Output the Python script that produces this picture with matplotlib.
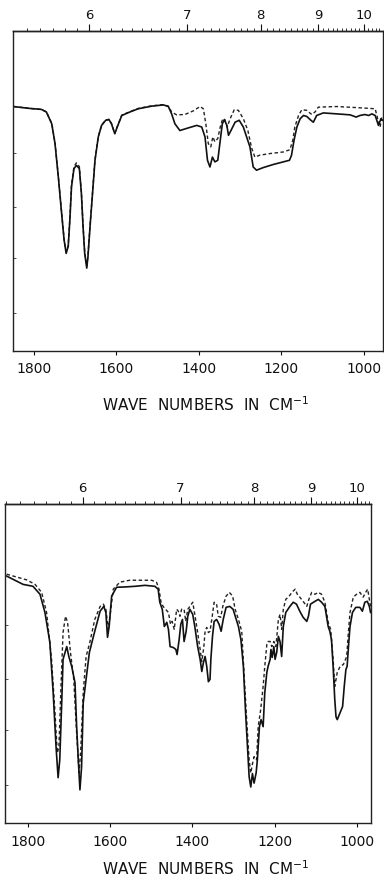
import numpy as np
import matplotlib
matplotlib.use("Agg")
import matplotlib.pyplot as plt

# ---- top spectrum (wave numbers in cm-1, transmittance in % of frame height)
top_wn = [1850, 1810, 1782, 1770, 1757, 1749, 1741, 1733, 1727, 1722,
          1717, 1713, 1709, 1703, 1697, 1690, 1685, 1681, 1677, 1672,
          1669, 1664, 1658, 1652, 1644, 1636, 1626, 1618, 1612, 1604,
          1598, 1587, 1567, 1547, 1515, 1486, 1474, 1466, 1458, 1446,
          1426, 1405, 1393, 1385, 1379, 1373, 1367, 1361, 1354, 1349,
          1343, 1338, 1332, 1328, 1322, 1312, 1302, 1292, 1284, 1276,
          1268, 1260, 1244, 1219, 1195, 1180, 1175, 1169, 1162, 1154,
          1146, 1138, 1128, 1122, 1114, 1098, 1065, 1033, 1018, 1009,
          997, 988, 980, 972, 964, 958, 954]
top_solid = [76.4, 75.8, 75.5, 74.7, 71.0, 64.8, 54.4, 43.0, 34.7, 30.5,
             32.7, 40.9, 51.3, 57.0, 58.0, 57.0, 49.2, 38.9, 30.5, 25.9,
             29.6, 38.9, 49.2, 59.6, 66.9, 70.5, 72.1, 72.3, 71.0, 67.9,
             70.0, 73.6, 74.7, 75.7, 76.5, 76.9, 76.4, 74.1, 71.0, 68.9,
             69.7, 70.5, 70.0, 66.9, 59.6, 57.5, 60.6, 59.1, 59.6, 64.8,
             71.0, 72.3, 70.5, 67.4, 68.9, 71.5, 72.1, 70.0, 66.9, 63.8,
             57.5, 56.5, 57.3, 58.3, 59.1, 59.6, 61.2, 65.8, 70.0, 72.6,
             73.6, 73.3, 72.1, 71.5, 73.6, 74.4, 74.1, 73.8, 73.1, 73.6,
             73.9, 73.6, 74.1, 73.6, 70.5, 72.6, 72.1]

top_dash_wn = [1850, 1810, 1782, 1770, 1757, 1749, 1741, 1733, 1727, 1722,
               1717, 1713, 1709, 1703, 1697, 1690, 1685, 1681, 1677, 1672,
               1669, 1664, 1658, 1652, 1644, 1636, 1626, 1618, 1612, 1604,
               1598, 1587, 1567, 1547, 1515, 1486, 1474, 1466, 1454, 1434,
               1414, 1397, 1389, 1383, 1377, 1371, 1366, 1361, 1354, 1348,
               1342, 1337, 1331, 1324, 1314, 1304, 1292, 1281, 1272, 1264,
               1252, 1227, 1195, 1179, 1172, 1167, 1158, 1150, 1138, 1126,
               1118, 1110, 1065, 1009, 972, 965, 960, 956, 953]
top_dash = [76.4, 75.8, 75.5, 74.7, 71.2, 65.0, 54.6, 43.3, 35.0, 31.0,
            33.0, 41.5, 52.0, 57.6, 58.8, 57.6, 49.6, 39.2, 31.0, 26.5,
            30.0, 39.2, 49.5, 59.8, 67.0, 70.6, 72.2, 72.4, 71.1, 68.0,
            70.1, 73.7, 74.8, 75.8, 76.6, 77.0, 76.5, 74.7, 73.8, 73.9,
            75.0, 76.4, 75.7, 71.0, 64.8, 63.8, 66.9, 65.4, 66.4, 70.0,
            72.6, 72.3, 70.0, 72.6, 75.4, 75.2, 72.6, 68.9, 63.5, 60.6,
            61.2, 61.7, 62.2, 62.9, 65.8, 70.0, 73.6, 75.4, 75.2, 73.9,
            74.7, 76.2, 76.4, 76.0, 75.7, 72.1, 70.0, 73.1, 72.6]

# ---- bottom spectrum
bot_wn = [1851, 1811, 1787, 1770, 1758, 1746, 1738, 1731, 1726, 1722,
          1717, 1714, 1705, 1700, 1693, 1685, 1681, 1677, 1673, 1669,
          1665, 1658, 1650, 1637, 1624, 1615, 1610, 1606, 1602, 1596,
          1584, 1564, 1539, 1515, 1491, 1483, 1479, 1473, 1468, 1462,
          1458, 1454, 1446, 1440, 1437, 1432, 1428, 1424, 1420, 1415,
          1411, 1406, 1399, 1394, 1387, 1381, 1377, 1373, 1369, 1365,
          1361, 1357, 1355, 1351, 1347, 1341, 1335, 1330, 1325, 1318,
          1309, 1301, 1295, 1288, 1282, 1276, 1271, 1266, 1262, 1258,
          1254, 1250, 1245, 1242, 1237, 1233, 1228, 1224, 1219, 1216,
          1211, 1209, 1206, 1202, 1199, 1195, 1191, 1187, 1183, 1179,
          1173, 1163, 1155, 1147, 1139, 1131, 1122, 1118, 1113, 1102,
          1094, 1086, 1078, 1070, 1066, 1062, 1058, 1054, 1051, 1048,
          1041, 1035, 1031, 1027, 1024, 1020, 1017, 1011, 1003, 993,
          987, 981, 975, 970, 967]
bot_solid = [77.4, 74.8, 74.2, 71.7, 66.0, 56.6, 40.9, 23.9, 14.2, 19.8,
             38.7, 51.3, 55.3, 52.2, 49.1, 44.0, 30.2, 19.8, 10.4, 17.6,
             37.7, 45.0, 53.5, 60.1, 66.4, 67.9, 66.0, 58.2, 61.6, 71.1,
             73.9, 74.0, 74.2, 74.5, 74.2, 73.3, 69.2, 67.0, 61.6, 62.9,
             60.7, 55.3, 55.0, 54.4, 52.8, 57.5, 62.3, 63.8, 56.9, 60.1,
             64.8, 67.0, 65.4, 61.6, 55.3, 51.3, 47.5, 50.3, 52.2, 49.1,
             44.3, 45.0, 51.3, 58.5, 63.2, 63.8, 62.3, 60.1, 63.8, 67.6,
             67.9, 67.0, 64.5, 61.6, 57.5, 49.1, 35.5, 23.9, 14.5, 11.3,
             15.5, 12.5, 15.7, 19.8, 30.2, 32.4, 30.2, 40.9, 47.2, 49.1,
             51.3, 54.4, 51.9, 55.3, 51.3, 53.5, 58.5, 56.9, 52.2, 61.6,
             66.0, 67.9, 69.2, 68.6, 66.4, 64.5, 63.2, 64.8, 68.6, 69.5,
             70.1, 69.2, 67.9, 61.6, 60.1, 57.5, 49.1, 38.7, 33.3, 32.4,
             34.6, 36.5, 42.8, 48.1, 49.1, 56.6, 61.6, 66.0, 67.6, 67.6,
             66.4, 69.2, 69.5, 67.9, 66.0]

bot_dash_wn = [1851, 1802, 1782, 1766, 1754, 1742, 1734, 1728, 1724, 1719,
               1714, 1708, 1703, 1696, 1688, 1681, 1675, 1671, 1665, 1658,
               1649, 1637, 1624, 1616, 1610, 1604, 1600, 1592, 1576, 1552,
               1532, 1499, 1487, 1481, 1476, 1471, 1465, 1458, 1453, 1449,
               1444, 1438, 1434, 1430, 1426, 1420, 1416, 1411, 1406, 1399,
               1394, 1387, 1381, 1377, 1372, 1369, 1365, 1361, 1357, 1352,
               1347, 1341, 1337, 1331, 1326, 1318, 1310, 1302, 1296, 1288,
               1280, 1274, 1268, 1262, 1258, 1254, 1250, 1244, 1240, 1234,
               1228, 1224, 1219, 1216, 1211, 1207, 1202, 1197, 1191, 1187,
               1183, 1179, 1173, 1165, 1156, 1150, 1145, 1139, 1131, 1122,
               1117, 1110, 1102, 1094, 1086, 1078, 1070, 1064, 1058, 1054,
               1048, 1041, 1033, 1025, 1021, 1017, 1009, 1001, 993, 985,
               979, 974, 970, 967]
bot_dash = [78.0, 76.2, 74.8, 72.3, 66.0, 51.3, 35.5, 22.0, 23.9, 42.8,
            59.7, 64.8, 62.9, 53.5, 45.0, 28.3, 15.7, 23.0, 40.9, 52.2,
            56.6, 63.8, 67.9, 68.6, 67.0, 60.7, 64.8, 73.3, 75.5, 76.1,
            76.1, 76.1, 75.5, 73.3, 69.2, 67.9, 67.0, 66.0, 62.3, 63.2,
            60.7, 67.0, 66.4, 64.8, 67.0, 67.0, 63.2, 67.0, 67.9, 69.2,
            65.4, 59.7, 54.4, 50.6, 55.3, 60.1, 61.3, 59.7, 60.1, 64.5,
            69.2, 68.6, 64.8, 64.5, 67.9, 71.1, 72.3, 71.1, 67.0, 63.8,
            60.1, 45.9, 32.4, 19.8, 15.7, 18.5, 20.8, 19.8, 30.2, 35.5,
            42.8, 49.1, 56.0, 56.9, 56.9, 55.3, 56.9, 55.3, 63.8, 65.4,
            60.7, 67.0, 70.1, 71.1, 72.6, 73.3, 71.7, 70.8, 69.5, 67.9,
            70.1, 72.3, 71.7, 72.3, 71.7, 69.2, 62.9, 60.7, 51.3, 42.8,
            47.2, 49.1, 49.7, 52.2, 59.7, 66.0, 70.8, 71.7, 72.3, 70.8,
            72.3, 73.3, 70.1, 67.9]

wn_ticks = [1800, 1600, 1400, 1200, 1000]
micron_ticks = [6, 7, 8, 9, 10]

for a, b in [(top_wn, top_solid), (top_dash_wn, top_dash),
             (bot_wn, bot_solid), (bot_dash_wn, bot_dash)]:
    assert len(a) == len(b), (len(a), len(b))


def to_micron(x):
    x = np.asarray(x, dtype=float)
    with np.errstate(divide="ignore", invalid="ignore"):
        return 1e4 / x


def style_panel(ax, xlim, bottom_pad, top_pad, tick_len):
    ax.set_xlim(*xlim)
    ax.set_ylim(0, 100)
    ax.set_xticks(wn_ticks)
    ax.tick_params(axis="x", direction="out", length=tick_len, width=0.8,
                   pad=bottom_pad, labelsize=10, colors="#111111")
    ax.set_yticks([12, 29, 45, 62])
    ax.tick_params(axis="y", direction="in", length=2, width=0.6,
                   labelleft=False, colors="#333333")
    for s in ax.spines.values():
        s.set_linewidth(1.0)
        s.set_color("#222222")
    sec = ax.secondary_xaxis("top", functions=(to_micron, to_micron))
    sec.set_xticks(micron_ticks)
    sec.set_xticks(np.arange(5.4, 10.55, 0.1), minor=True)
    sec.tick_params(which="major", direction="out", length=5, width=0.8,
                    pad=top_pad, labelsize=9.5, colors="#111111")
    sec.tick_params(which="minor", direction="out", length=2.2, width=0.6,
                    colors="#111111")
    sec.spines["top"].set_linewidth(1.0)
    return sec


fig = plt.figure(figsize=(3.84, 8.78), dpi=100)

ax1 = fig.add_axes([13 / 384, 1 - 352 / 878, 370 / 384, 320 / 878])
ax1.plot(top_dash_wn, top_dash, color="#222222", lw=1.0, ls=(0, (2.5, 1.8)))
ax1.plot(top_wn, top_solid, color="#111111", lw=1.2)
style_panel(ax1, (1851, 953), bottom_pad=4.3, top_pad=2.5, tick_len=3)

ax2 = fig.add_axes([5 / 384, 1 - 824 / 878, 366 / 384, 319 / 878])
ax2.plot(bot_dash_wn, bot_dash, color="#222222", lw=1.0, ls=(0, (2.5, 1.8)))
ax2.plot(bot_wn, bot_solid, color="#111111", lw=1.2)
style_panel(ax2, (1855, 966), bottom_pad=5, top_pad=2.2, tick_len=3)

label = "WAVE  NUMBERS  IN  CM$^{-1}$"
fig.text(206 / 384, 1 - 405 / 878, label, ha="center", va="center",
         fontsize=11, color="#111111")
fig.text(206 / 384, 1 - 869 / 878, label, ha="center", va="center",
         fontsize=11, color="#111111")

fig.savefig("out.png", dpi=100, facecolor="white")
